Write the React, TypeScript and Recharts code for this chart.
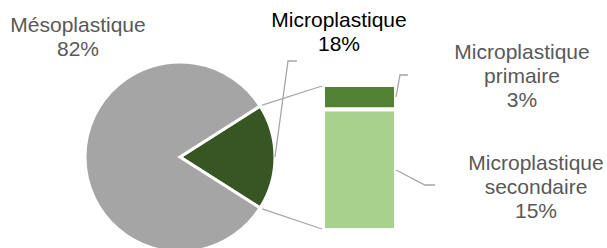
import React from 'react';
import { PieChart, Pie, Cell, BarChart, Bar, XAxis, YAxis } from 'recharts';

if (typeof document !== 'undefined') document.body.style.margin = '0';

// parts of the pie
const pieNames = ['Microplastique', 'Mésoplastique'];
const pieValues = [18, 82];
// split of the microplastic slice, shown as a stacked bar
const splitNames = ['Microplastique secondaire', 'Microplastique primaire'];
const splitValues = [15, 3];

const W = 607;
const H = 248;
const CX = 180;
const CY = 157;
const R = 95;
const BAR = { x: 323, y: 85, w: 73, h: 145 };

const pieColors = ['#375623', '#A5A5A5'];
const barColors = ['#A9D18E', '#548235'];
const LINE = '#A6A6A6';
const FONT = '"Liberation Sans", Arial, sans-serif';

const pieData = pieNames.map((name, i) => ({ name, value: pieValues[i] }));
const barRow: Record<string, number | string> = { name: pieNames[0] };
splitNames.forEach((n, i) => (barRow[n] = splitValues[i]));

function Label({ x, y, lines, color }: { x: number; y: number; lines: string[]; color: string }) {
  return (
    <text x={x} textAnchor="middle" fontFamily={FONT} fontSize={21} fill={color}>
      {lines.map((l, i) => (
        <tspan key={i} x={x} y={y + i * 24}>
          {l}
        </tspan>
      ))}
    </text>
  );
}

export default function App() {
  const total = pieValues.reduce((a, b) => a + b, 0);
  const half = (pieValues[0] / total) * 180;
  const rad = (half * Math.PI) / 180;
  const edgeX = CX + R * Math.cos(rad);
  const topY = CY - R * Math.sin(rad);
  const botY = CY + R * Math.sin(rad);

  return (
    <div style={{ position: 'relative', width: W, height: H, background: '#fff', overflow: 'hidden' }}>
      <div style={{ position: 'absolute', left: 0, top: 0 }}>
        <PieChart width={W} height={H} margin={{ top: 0, right: 0, bottom: 0, left: 0 }}>
          <Pie
            data={pieData}
            dataKey="value"
            cx={CX}
            cy={CY}
            outerRadius={R}
            startAngle={-half}
            endAngle={360 - half}
            stroke="#fff"
            strokeWidth={3}
            isAnimationActive={false}
          >
            {pieData.map((d, i) => (
              <Cell key={d.name} fill={pieColors[i]} />
            ))}
          </Pie>
        </PieChart>
      </div>

      <div style={{ position: 'absolute', left: BAR.x, top: BAR.y }}>
        <BarChart
          width={BAR.w}
          height={BAR.h}
          data={[barRow]}
          margin={{ top: 0, right: 0, bottom: 0, left: 0 }}
          barCategoryGap={0}
        >
          <XAxis dataKey="name" hide />
          <YAxis hide domain={[0, pieValues[0]]} />
          {splitNames.map((n, i) => (
            <Bar
              key={n}
              dataKey={n}
              stackId="a"
              fill={barColors[i]}
              stroke="#fff"
              strokeWidth={4}
              isAnimationActive={false}
            />
          ))}
        </BarChart>
      </div>

      <svg width={W} height={H} style={{ position: 'absolute', left: 0, top: 0, pointerEvents: 'none' }}>
        <line x1={edgeX + 2} y1={topY - 1} x2={BAR.x - 1} y2={BAR.y + 1} stroke={LINE} strokeWidth={1.3} />
        <line x1={edgeX + 2} y1={botY + 1} x2={BAR.x - 1} y2={BAR.y + BAR.h - 1} stroke={LINE} strokeWidth={1.3} />
        <polyline points="297,61 288,61 275,157" fill="none" stroke={LINE} strokeWidth={1.3} />
        <polyline points="408,75 400,75 396,97" fill="none" stroke={LINE} strokeWidth={1.3} />
        <polyline points="435,185 425,185 396,170" fill="none" stroke={LINE} strokeWidth={1.3} />

        <Label x={78} y={32} color="#595959" lines={[pieNames[1], `${pieValues[1]}%`]} />
        <Label x={339} y={27} color="#000" lines={[pieNames[0], `${pieValues[0]}%`]} />
        <Label
          x={522}
          y={59}
          color="#595959"
          lines={[...splitNames[1].split(' '), `${splitValues[1]}%`]}
        />
        <Label
          x={536}
          y={170}
          color="#595959"
          lines={[...splitNames[0].split(' '), `${splitValues[0]}%`]}
        />
      </svg>
    </div>
  );
}
